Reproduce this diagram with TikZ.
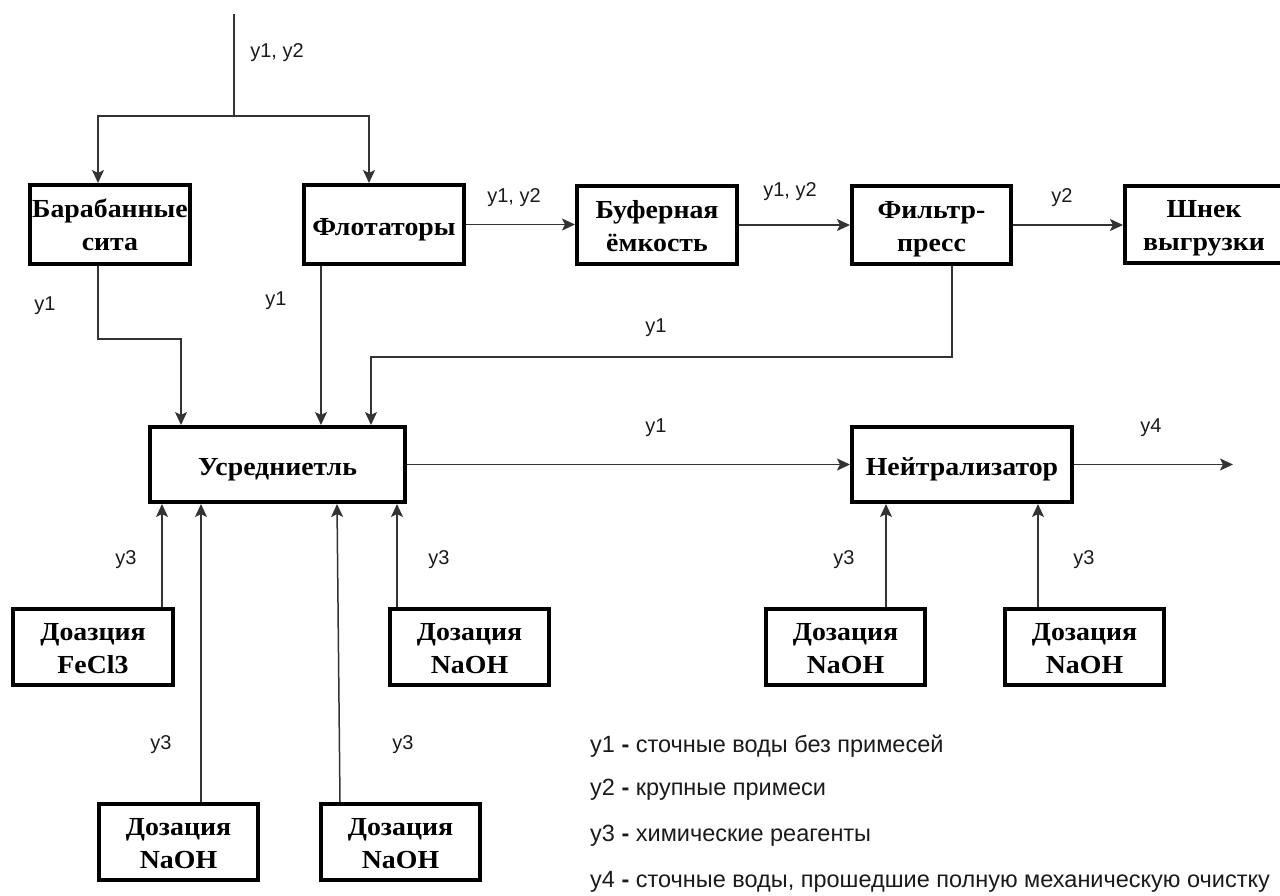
\documentclass[tikz,border=0pt]{standalone}
\usepackage{fontspec}
\setmainfont{Liberation Serif}[FakeStretch=1.07]
\newfontfamily\lblfont{Liberation Sans}
\usetikzlibrary{arrows.meta}
\definecolor{linec}{HTML}{333333}
\definecolor{txtc}{HTML}{1A1A1A}
\newcommand\bxone[1]{\raisebox{-5pt}[\height][\depth]{#1}}
\newcommand\bxtwo[2]{\raisebox{-3pt}[\height][\depth]{\begin{tabular}{@{}c@{}}#1\\#2\end{tabular}}}
\tikzset{
  box/.style={draw=black, line width=4pt, fill=white, inner sep=0pt,
    font=\fontsize{26}{33}\selectfont\bfseries},
  arr/.style={draw=linec, line width=1.5pt, -{Stealth[length=13pt,width=12pt,inset=3pt]}},
  ln/.style={draw=linec, line width=1.5pt},
  lbl/.style={text=txtc, inner sep=0pt, font=\lblfont\fontsize{20}{24}\selectfont},
  leg/.style={text=txtc, inner sep=0pt, anchor=west, font=\lblfont\fontsize{23.5}{28}\selectfont}
}
\begin{document}
\begin{tikzpicture}[x=1pt,y=-1pt]
\useasboundingbox (0,0) rectangle (1280,895);
% boxes
\node[box, minimum width=160pt, minimum height=79pt] (bar) at (110,224.5) {\bxtwo{Барабанные}{сита}};
\node[box, minimum width=160pt, minimum height=79pt] (flot) at (384,224.5) {\bxone{Флотаторы}};
\node[box, minimum width=160pt, minimum height=78pt] (buf) at (657,225) {\bxtwo{Буферная}{ёмкость}};
\node[box, minimum width=159pt, minimum height=78pt] (filt) at (931.5,225) {\bxtwo{Фильтр-}{пресс}};
\node[box, minimum width=158pt, minimum height=77pt] (shnek) at (1204,224.5) {\bxtwo{Шнек}{выгрузки}};
\node[box, minimum width=255pt, minimum height=75pt] (usr) at (277.5,464.5) {\bxone{Усредниетль}};
\node[box, minimum width=220pt, minimum height=75pt] (neut) at (962,464.5) {\bxone{Нейтрализатор}};
\node[box, minimum width=160pt, minimum height=76pt] (dfe) at (93,647) {\bxtwo{Доазция}{FeCl3}};
\node[box, minimum width=159pt, minimum height=76pt] (dn1) at (469.5,647) {\bxtwo{Дозация}{NaOH}};
\node[box, minimum width=159pt, minimum height=76pt] (dn2) at (178.5,842) {\bxtwo{Дозация}{NaOH}};
\node[box, minimum width=159pt, minimum height=76pt] (dn3) at (400.5,842) {\bxtwo{Дозация}{NaOH}};
\node[box, minimum width=159pt, minimum height=76pt] (dn4) at (845.5,647) {\bxtwo{Дозация}{NaOH}};
\node[box, minimum width=159pt, minimum height=76pt] (dn5) at (1084.5,647) {\bxtwo{Дозация}{NaOH}};
% input
\coordinate (in) at (234,14);
\coordinate (split) at (234,116);
\coordinate (out) at (1233,464.5);
\draw[ln] (in) -- (split);
\draw[arr] (split) -| (bar.north -| 98,0);
\draw[arr] (split) -| (flot.north -| 369,0);
% top row
\draw[arr] (flot.east) -- (flot.east -| buf.west);
\draw[arr] (buf.east) -- (buf.east -| filt.west);
\draw[arr] (filt.east) -- (filt.east -| shnek.west);
% to usr
\draw[arr] (bar.south -| 98,0) |- (181,339) -- (usr.north -| 181,0);
\draw[arr] (flot.south -| 321,0) -- (usr.north -| 321,0);
\draw[arr] (filt.south -| 952,0) |- (371,357) -- (usr.north -| 371,0);
% usr -> neut -> out
\draw[arr] (usr.east) -- (usr.east -| neut.west);
\draw[arr] (neut.east) -- (out);
% dosing
\draw[arr] (dfe.north -| 162,0) -- (usr.south -| 162,0);
\draw[arr] (dn2.north -| 201,0) -- (usr.south -| 201,0);
\draw[arr] (dn3.north -| 340,0) -- (usr.south -| 337,0);
\draw[arr] (dn1.north -| 397,0) -- (usr.south -| 397,0);
\draw[arr] (dn4.north -| 886,0) -- (neut.south -| 886,0);
\draw[arr] (dn5.north -| 1038,0) -- (neut.south -| 1038,0);
% labels
\node[lbl] (l1) at (277,53) {y1, y2};
\node[lbl] (l2) at (514,198) {y1, y2};
\node[lbl] (l3) at (790,192) {y1, y2};
\node[lbl] (l4) at (1062,198) {y2};
\node[lbl] (l5) at (45,306) {y1};
\node[lbl] (l6) at (276,301) {y1};
\node[lbl] (l7) at (656,328) {y1};
\node[lbl] (l8) at (656,428) {y1};
\node[lbl] (l9) at (1151,428) {y4};
\node[lbl] (l10) at (126,560) {y3};
\node[lbl] (l11) at (439,560) {y3};
\node[lbl] (l12) at (161,745) {y3};
\node[lbl] (l13) at (403,745) {y3};
\node[lbl] (l14) at (844,560) {y3};
\node[lbl] (l15) at (1084,560) {y3};
% legend
\node[leg] (g1) at (590,746) {y1 \textbf{-} сточные воды без примесей};
\node[leg] (g2) at (590,790) {y2 \textbf{-} крупные примеси};
\node[leg] (g3) at (590,836) {y3 \textbf{-} химические реагенты};
\node[leg] (g4) at (590,882) {y4 \textbf{-} сточные воды, прошедшие полную механическую очистку};
\end{tikzpicture}
\end{document}
